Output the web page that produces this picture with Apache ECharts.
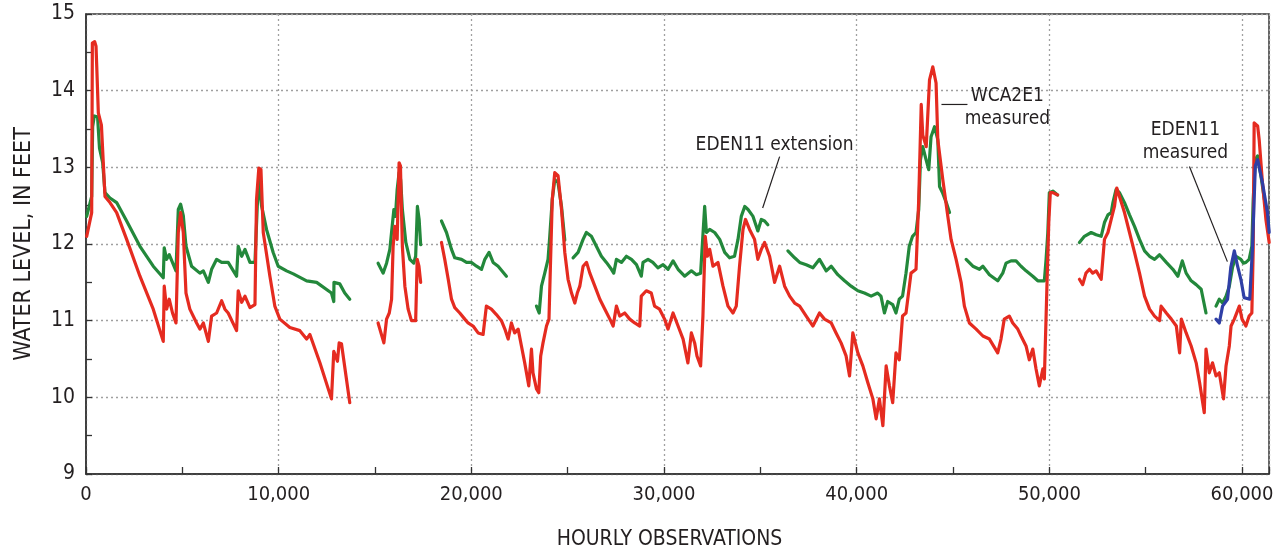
<!DOCTYPE html>
<html>
<head>
<meta charset="utf-8">
<script src="https://cdn.jsdelivr.net/npm/echarts@6/dist/echarts.min.js"></script>
<style>
  html, body { margin: 0; padding: 0; background: #ffffff; }
  #chart { width: 1288px; height: 555px; }
</style>
</head>
<body>
<div id="chart"></div>
<script>
// Hourly water levels (feet). Each series is a list of continuous records;
// gaps between records are left open.
const xTicks = [0, 10000, 20000, 30000, 40000, 50000, 60000];
const yTicks = [9, 10, 11, 12, 13, 14, 15];

// WCA2E1 measured
const wca2e1Measured = [
  [[35,12.10],[295,12.41],[330,14.62],[450,14.64],[520,14.58],[560,14.30],[640,13.71],[800,13.55],[900,13.05],[985,12.62],[1245,12.54],[1590,12.41],[2110,12.06],[2800,11.58],[3490,11.15],[4010,10.73],[4060,11.45],[4185,11.15],[4320,11.28],[4490,11.10],[4670,10.97],[4790,12.15],[4910,12.41],[5050,12.15],[5190,11.36],[5390,11.15],[5740,10.97],[5910,10.89],[6090,10.97],[6350,10.73],[6520,11.06],[6780,11.10],[7040,11.26],[7210,11.15],[7380,11.10],[7815,10.87],[7900,11.39],[8080,11.24],[8250,11.32],[8510,11.17],[8770,11.21],[8850,12.58],[8970,12.99],[9080,12.97],[9200,12.15],[9545,11.58],[9800,11.19],[10060,11.02],[10580,10.91],[11100,10.87],[11450,10.76],[11620,10.82],[12140,10.45],[12740,9.98],[12830,9.96],[12860,10.60],[13050,10.47],[13140,10.71],[13260,10.70],[13690,9.93]],
  [[15160,10.97],[15460,10.71],[15600,11.02],[15740,11.10],[15860,11.28],[15940,11.97],[16030,12.23],[16150,12.06],[16250,13.06],[16320,13.02],[16420,11.97],[16550,11.45],[16720,11.15],[16890,11.00],[17110,11.00],[17190,11.80],[17280,11.71],[17370,11.50]],
  [[18450,12.02],[18620,11.80],[18800,11.54],[18970,11.28],[19140,11.17],[19400,11.10],[19660,11.02],[19830,10.97],[20090,10.93],[20350,10.84],[20610,10.82],[20780,11.19],[21040,11.15],[21300,11.08],[21560,11.00],[21740,10.89],[21910,10.76],[22080,10.97],[22250,10.84],[22430,10.89],[22600,10.67],[22770,10.45],[22980,10.15],[23120,10.63],[23200,10.32],[23380,10.11],[23500,10.06],[23600,10.54],[23720,10.71],[23900,10.93],[24030,11.02],[24100,11.67],[24200,12.58],[24330,12.93],[24500,12.89],[24680,12.45],[24850,11.89],[25020,11.54],[25200,11.36],[25370,11.23],[25500,11.36],[25630,11.45],[25800,11.71],[25980,11.76],[26150,11.62],[26410,11.45],[26670,11.28],[26930,11.15],[27190,11.02],[27360,10.93],[27530,11.19],[27700,11.06],[27960,11.10],[28220,11.02],[28480,10.97],[28740,10.93],[28820,11.32],[29080,11.39],[29340,11.36],[29510,11.19],[29770,11.15],[30030,11.02],[30210,10.89],[30470,11.10],[30730,10.93],[30990,10.76],[31240,10.45],[31420,10.84],[31590,10.71],[31710,10.54],[31900,10.41],[32020,11.06],[32140,12.10],[32250,11.84],[32370,11.93],[32540,11.71],[32800,11.76],[33060,11.45],[33320,11.19],[33580,11.10],[33750,11.19],[33920,11.71],[34100,12.19],[34230,12.32],[34440,12.19],[34700,12.06],[34870,11.80],[35050,11.93],[35220,12.02],[35480,11.84],[35740,11.50],[36000,11.71],[36260,11.45],[36520,11.32],[36780,11.23],[37040,11.19],[37380,11.06],[37730,10.93],[38070,11.10],[38330,11.02],[38680,10.97],[38930,10.84],[39190,10.71],[39450,10.54],[39630,10.28],[39800,10.84],[40060,10.58],[40320,10.41],[40580,10.19],[40840,9.98],[41010,9.72],[41180,9.98],[41360,9.63],[41530,10.41],[41700,10.15],[41870,9.93],[42040,10.58],[42210,10.49],[42380,11.06],[42560,11.10],[42820,11.62],[43080,11.67],[43220,12.58],[43350,13.82],[43430,13.42],[43610,13.27],[43780,14.14],[43950,14.31],[44120,14.10],[44210,13.36],[44470,12.84],[44730,12.36],[44900,12.06],[45160,11.80],[45420,11.50],[45590,11.19],[45850,10.97],[46200,10.89],[46550,10.80],[46890,10.76],[47320,10.58],[47490,10.76],[47660,11.02],[47920,11.06],[48100,10.97],[48360,10.89],[48530,10.80],[48790,10.67],[48960,10.49],[49140,10.63],[49310,10.37],[49480,10.15],[49660,10.37],[49740,10.24],[49870,11.41],[49970,12.28],[50050,12.67],[50180,12.67],[50430,12.64]],
  [[51560,11.54],[51730,11.47],[51900,11.62],[52080,11.67],[52250,11.62],[52430,11.65],[52690,11.54],[52860,12.06],[53040,12.15],[53210,12.32],[53380,12.49],[53500,12.73],[53640,12.62],[53900,12.41],[54160,12.15],[54420,11.89],[54680,11.62],[54940,11.32],[55200,11.15],[55460,11.06],[55720,11.00],[55800,11.19],[56070,11.10],[56330,11.02],[56590,10.93],[56760,10.58],[56850,11.02],[57100,10.84],[57360,10.67],[57620,10.45],[57800,10.19],[58040,9.80],[58130,10.63],[58300,10.32],[58470,10.45],[58650,10.28],[58820,10.32],[59040,9.98],[59170,10.41],[59340,10.67],[59430,10.93],[59600,11.02],[59860,11.19],[60000,11.02],[60200,10.93],[60370,11.06],[60510,11.10],[60580,11.93],[60630,13.58],[60810,13.54],[60890,13.36],[61060,12.80],[61240,12.32],[61410,12.02]]
];

// EDEN11 extension
const eden11Extension = [
  [[35,12.36],[295,12.62],[345,13.53],[430,13.67],[600,13.66],[700,13.25],[865,13.06],[985,12.67],[1245,12.60],[1590,12.54],[2110,12.30],[2800,11.97],[3490,11.71],[4010,11.56],[4060,11.95],[4185,11.80],[4320,11.86],[4670,11.65],[4790,12.45],[4910,12.52],[5050,12.37],[5190,11.97],[5480,11.71],[5910,11.62],[6090,11.65],[6350,11.50],[6520,11.67],[6780,11.80],[7040,11.76],[7380,11.76],[7815,11.58],[7900,11.97],[8080,11.84],[8250,11.93],[8510,11.76],[8770,11.76],[8890,12.50],[8990,12.84],[9110,12.50],[9370,12.19],[9715,11.89],[9975,11.71],[10410,11.65],[10760,11.61],[11450,11.52],[11970,11.50],[12740,11.36],[12860,11.25],[12870,11.50],[13170,11.48],[13430,11.36],[13690,11.28]],
  [[15160,11.75],[15420,11.62],[15600,11.75],[15770,11.93],[15890,12.23],[15980,12.45],[16060,12.36],[16150,12.71],[16250,12.93],[16330,12.84],[16420,12.45],[16600,12.02],[16810,11.80],[17010,11.75],[17110,11.84],[17200,12.49],[17290,12.32],[17370,11.99]],
  [[18450,12.30],[18710,12.15],[18970,11.93],[19140,11.82],[19490,11.80],[19750,11.76],[20010,11.76],[20270,11.71],[20530,11.67],[20700,11.80],[20920,11.89],[21130,11.76],[21390,11.71],[21820,11.58]],
  [[23380,11.19],[23520,11.10],[23640,11.45],[23810,11.62],[23980,11.80],[24070,12.10],[24200,12.58],[24330,12.84],[24500,12.80],[24680,12.49],[24850,12.05]],
  [[25280,11.82],[25540,11.89],[25800,12.06],[25970,12.15],[26230,12.10],[26490,11.97],[26750,11.84],[27010,11.76],[27270,11.67],[27390,11.62],[27530,11.80],[27790,11.76],[28050,11.84],[28310,11.80],[28570,11.73],[28820,11.58],[28910,11.76],[29170,11.80],[29420,11.76],[29680,11.69],[29950,11.73],[30210,11.67],[30470,11.78],[30730,11.67],[31070,11.58],[31420,11.65],[31680,11.60],[31900,11.62],[32110,12.49],[32200,12.15],[32370,12.19],[32630,12.15],[32890,12.06],[33150,11.89],[33400,11.82],[33660,11.84],[33840,12.06],[34010,12.36],[34190,12.49],[34360,12.45],[34620,12.36],[34870,12.17],[35050,12.32],[35220,12.30],[35390,12.25]],
  [[36430,11.91],[36780,11.82],[37040,11.76],[37380,11.73],[37730,11.69],[38070,11.80],[38420,11.65],[38680,11.71],[39020,11.60],[39370,11.52],[39710,11.45],[40060,11.39],[40400,11.36],[40750,11.32],[41090,11.36],[41260,11.32],[41440,11.10],[41610,11.25],[41870,11.21],[42040,11.10],[42210,11.28],[42380,11.32],[42560,11.62],[42730,11.97],[42900,12.10],[43080,12.15],[43220,12.45],[43310,13.10],[43430,13.27],[43600,13.10],[43740,12.97],[43860,13.40],[44040,13.53],[44210,13.36],[44300,12.75],[44470,12.66],[44650,12.54],[44820,12.41]],
  [[45680,11.80],[46030,11.71],[46370,11.67],[46550,11.71],[46890,11.60],[47320,11.52],[47580,11.62],[47750,11.75],[48010,11.78],[48270,11.78],[48530,11.71],[48790,11.65],[49140,11.58],[49400,11.52],[49740,11.52],[49830,11.80],[49920,12.15],[50000,12.67],[50180,12.69],[50430,12.64]],
  [[51560,12.02],[51820,12.10],[52170,12.15],[52430,12.12],[52690,12.10],[52860,12.28],[53040,12.38],[53210,12.41],[53300,12.54],[53460,12.71],[53640,12.67],[53900,12.54],[54160,12.38],[54420,12.23],[54680,12.06],[54940,11.91],[55200,11.84],[55460,11.80],[55720,11.86],[56070,11.76],[56410,11.67],[56670,11.58],[56900,11.78],[57100,11.62],[57360,11.52],[57620,11.47],[57880,11.41],[58130,11.10]],
  [[58650,11.19],[58820,11.28],[58990,11.23],[59170,11.32],[59340,11.45],[59510,11.70],[59690,11.84],[59940,11.80],[60070,11.75],[60200,11.76],[60370,11.80],[60510,11.97],[60580,12.58],[60690,13.10],[60810,13.15],[60980,12.89],[61240,12.45],[61380,12.28]]
];

// EDEN11 measured
const eden11Measured = [
  [[58650,11.02],[58820,10.97],[58990,11.19],[59250,11.28],[59420,11.70],[59600,11.91],[59770,11.71],[59940,11.54],[60110,11.30],[60400,11.28],[60540,11.93],[60690,13.02],[60810,13.10],[61060,12.80],[61320,12.41],[61410,12.15]]
];

// Callout texts with their anchor and leader-line ends, in data units
const callouts = [
  { lines: ['EDEN11 extension'], at: [35740, 13.29], leader: [[36000, 13.14], [35120, 12.47]] },
  { lines: ['WCA2E1', 'measured'], at: [47820, 13.78], leader: [[44400, 13.82], [45750, 13.82]] },
  { lines: ['EDEN11', 'measured'], at: [57060, 13.33], leader: [[57270, 13.01], [59240, 11.77]] }
];

const FONT = '"DejaVu Sans Condensed", "Liberation Sans Narrow", "Arial Narrow", sans-serif';
const INK = '#231f20';
const X_MAX = 61400;

// Join the records into one data list, breaking the line between them
function withGaps(records) {
  const out = [];
  records.forEach((rec, i) => {
    if (i > 0) out.push([rec[0][0] - 1, '-']);
    rec.forEach(p => out.push(p));
  });
  return out;
}

const gridDash = { color: '#a0a0a0', width: 1.3, type: [2, 3] };

const chart = echarts.init(document.getElementById('chart'), null, { renderer: 'canvas' });

function lineSeries(name, records, color, z) {
  return {
    name, type: 'line', data: withGaps(records), showSymbol: false, symbol: 'none',
    connectNulls: false, z,
    lineStyle: { color, width: 3.2, join: 'round', cap: 'round' },
    itemStyle: { color }, animation: false
  };
}

chart.setOption({
  animation: false,
  backgroundColor: '#ffffff',
  grid: {
    left: 86, right: 19, top: 14, bottom: 80,
    show: true, borderColor: '#333333', borderWidth: 1.5, backgroundColor: 'transparent'
  },
  xAxis: [
    {
      type: 'value', min: xTicks[0], max: X_MAX, interval: xTicks[1] - xTicks[0],
      position: 'bottom',
      name: 'HOURLY OBSERVATIONS', nameLocation: 'middle', nameGap: 55,
      nameTextStyle: { fontFamily: FONT, fontSize: 21, color: INK, padding: [0, 16, 0, 0] },
      axisLine: { show: true, lineStyle: { color: '#333333', width: 1.5 } },
      axisTick: { show: false },
      axisLabel: {
        fontFamily: FONT, fontSize: 20, color: INK, margin: 11, showMaxLabel: false,
        formatter: v => xTicks.indexOf(v) >= 0 ? v.toLocaleString('en-US') : ''
      },
      splitLine: { show: true, lineStyle: gridDash }
    },
    {
      // half-interval tick marks along the bottom edge
      type: 'value', min: xTicks[0], max: X_MAX, interval: (xTicks[1] - xTicks[0]) / 2,
      position: 'bottom',
      axisLine: { show: false },
      axisTick: { show: true, inside: true, length: 7, lineStyle: { color: '#333333', width: 1.3 } },
      axisLabel: { show: false },
      splitLine: { show: false }
    }
  ],
  yAxis: {
    type: 'value', min: yTicks[0], max: yTicks[yTicks.length - 1], interval: 1,
    name: 'WATER LEVEL, IN FEET', nameLocation: 'middle', nameGap: 50, nameRotate: 90,
    nameTextStyle: { fontFamily: FONT, fontSize: 23, color: INK },
    axisLine: { show: true, lineStyle: { color: '#333333', width: 1.5 } },
    axisTick: { show: true, inside: true, length: 6, lineStyle: { color: '#333333', width: 1.3 } },
    minorTick: { show: true, splitNumber: 2, length: 6, lineStyle: { color: '#333333', width: 1.3 } },
    axisLabel: { fontFamily: FONT, fontSize: 21, color: INK, margin: 11 },
    splitLine: { show: true, lineStyle: gridDash }
  },
  series: [
    lineSeries('EDEN11 extension', eden11Extension, '#23883b', 3),
    lineSeries('WCA2E1 measured', wca2e1Measured, '#e52b20', 4),
    lineSeries('EDEN11 measured', eden11Measured, '#2f3fa6', 5)
  ]
});

// Callout texts and leader lines, placed through the chart's own coordinate system
function drawCallouts() {
  const els = [];
  callouts.forEach(c => {
    const a = chart.convertToPixel({ gridIndex: 0 }, c.leader[0]);
    const b = chart.convertToPixel({ gridIndex: 0 }, c.leader[1]);
    els.push({
      type: 'line', silent: true, z: 10,
      shape: { x1: a[0], y1: a[1], x2: b[0], y2: b[1] },
      style: { stroke: INK, lineWidth: 1.2 }
    });
    const p = chart.convertToPixel({ gridIndex: 0 }, c.at);
    els.push({
      type: 'text', silent: true, z: 10, x: p[0], y: p[1],
      style: {
        text: c.lines.join('\n'), fontFamily: FONT, fontSize: 19, lineHeight: 23,
        fill: INK, align: 'center', verticalAlign: 'middle', backgroundColor: 'transparent'
      }
    });
  });
  chart.setOption({ graphic: { elements: els } });
}
drawCallouts();
</script>
</body>
</html>
